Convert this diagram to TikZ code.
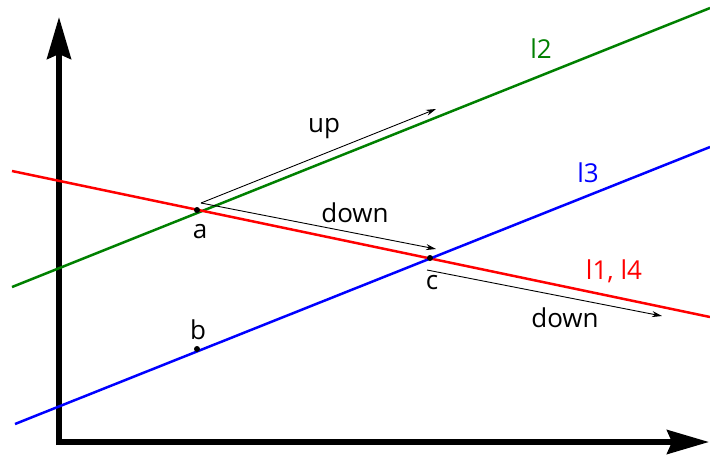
\documentclass[tikz,border=0pt]{standalone}
\usepackage{fontspec}
\setmainfont{Open Sans}
\usetikzlibrary{arrows.meta}
\definecolor{lgreen}{HTML}{008000}
\definecolor{lred}{HTML}{FF0000}
\definecolor{lblue}{HTML}{0000FF}

\begin{document}
\begin{tikzpicture}[
  x=1pt,y=-1pt,
  font=\fontsize{26}{26}\selectfont,
  axis/.style={line width=5.5pt,-{Stealth[length=42pt,width=24pt,inset=5pt]}},
  ln/.style={line width=2.5pt},
  vec/.style={line width=0.9pt,-{Stealth[length=10pt,width=6pt]}},
  pt/.style={circle,fill=black,inner sep=0pt,minimum size=6pt},
  lbl/.style={inner sep=0pt},
]
\useasboundingbox (0,0) rectangle (710,456);

% axes
\coordinate (o) at (59,442);
\coordinate (ytop) at (59,17);
\coordinate (xend) at (709,442);
\draw[axis] (o |- 0,445) -- (ytop);
\draw[axis] (o -| 56,0) -- (xend);

% lines
\coordinate (g1) at (12,287);
\coordinate (g2) at (710,8);
\coordinate (r1) at (12,171);
\coordinate (r2) at (710,317);
\coordinate (b1) at (15,424);
\coordinate (b2) at (710,147);
\draw[ln,lgreen] (g1) -- (g2);
\draw[ln,lred] (r1) -- (r2);
\draw[ln,lblue] (b1) -- (b2);

\node[lbl,text=lgreen] (l2) at (541,49) {l2};
\node[lbl,text=lblue] (l3) at (588,173) {l3};
\node[lbl,text=lred] (l14) at (614,271) {l1, l4};

% points
\node[pt] (a) at (197,210) {};
\node[pt] (b) at (197,349) {};
\node[pt] (c) at (430,258) {};
\node[lbl] at (200,232) {a};
\node[lbl] at (198,330) {b};
\node[lbl] at (432,283) {c};

% moves
\coordinate (s1) at (201,203);
\coordinate (e1) at (436,109);
\coordinate (e2) at (436,249);
\coordinate (s3) at (427,270);
\coordinate (e3) at (662,316);
\draw[vec] (s1) -- (e1);
\draw[vec] (s1) -- (e2);
\draw[vec] (s3) -- (e3);
\node[lbl] (up) at (324,129) {up};
\node[lbl] (dn1) at (355,213) {down};
\node[lbl] (dn2) at (565,318) {down};
\end{tikzpicture}
\end{document}
